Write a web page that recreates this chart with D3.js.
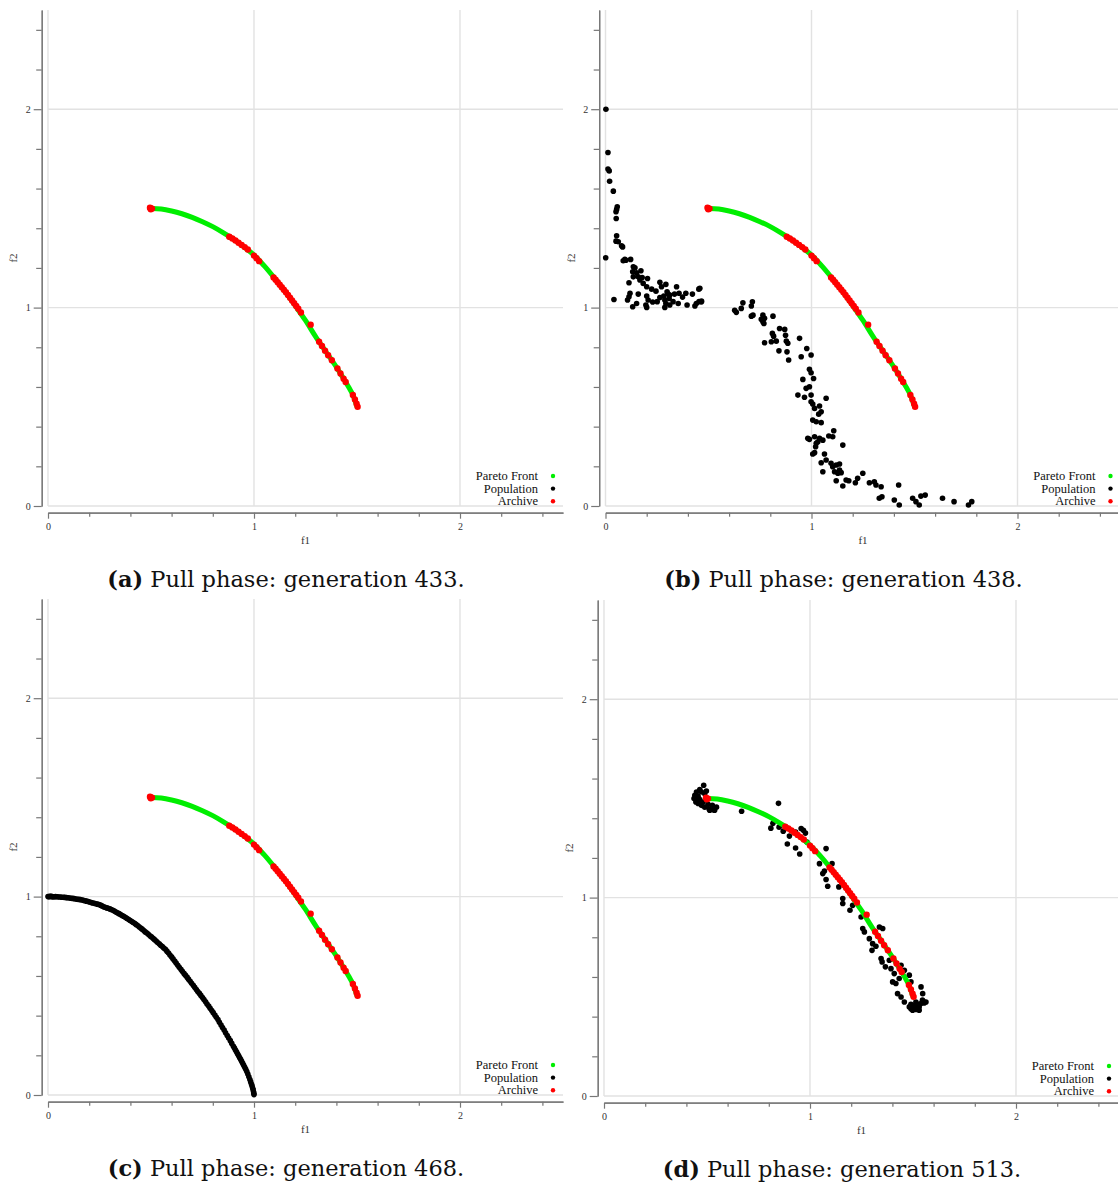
<!DOCTYPE html>
<html><head><meta charset="utf-8">
<script src="https://cdn.jsdelivr.net/npm/d3@7"></script>
<style>
html,body{margin:0;padding:0;background:#fff;}
svg{display:block;}
</style></head>
<body>
<svg id="fig" width="1118" height="1183"></svg>
<script>
// ---------------- DATA ----------------
const captionLetters = ["(a)", "(b)", "(c)", "(d)"];
const captionTexts = [" Pull phase: generation 433.", " Pull phase: generation 438.", " Pull phase: generation 468.", " Pull phase: generation 513."];
const legendLabels = ["Pareto Front", "Population", "Archive"];
const legendColors = ["#00ee00", "#000000", "#ff0000"];
const majorTicks = [0, 1, 2];
const minorTicks = [0.2, 0.4, 0.6, 0.8, 1.2, 1.4, 1.6, 1.8, 2.2, 2.4];
const axisDomain = [0, 2.5];

// Pareto front (f1, f2)
const paretoFront = [
  [0.50,1.500],[0.55,1.497],[0.60,1.487],[0.65,1.473],[0.70,1.455],[0.75,1.433],[0.80,1.408],
  [0.85,1.378],[0.90,1.345],[0.95,1.307],[1.00,1.265],[1.05,1.210],[1.10,1.148],[1.15,1.082],
  [1.20,1.010],[1.25,0.935],[1.30,0.852],[1.35,0.776],[1.40,0.700],[1.43,0.650],[1.46,0.598],
  [1.48,0.560],[1.50,0.500]
];

// Archive (same in all four panels)
const archive = [
  [0.495,1.503],[0.500,1.500],[0.505,1.499],[0.499,1.496],
  [0.880,1.357],[0.895,1.348],[0.910,1.338],[0.925,1.327],[0.940,1.316],[0.955,1.305],[0.970,1.293],
  [1.000,1.262],[1.012,1.249],[1.025,1.234],
  [1.095,1.152],[1.105,1.140],[1.115,1.128],[1.125,1.115],[1.135,1.103],[1.145,1.090],[1.155,1.077],
  [1.165,1.064],[1.175,1.050],[1.185,1.036],[1.195,1.022],[1.205,1.008],[1.215,0.994],[1.228,0.975],
  [1.275,0.914],
  [1.316,0.828],[1.330,0.807],[1.345,0.783],[1.360,0.760],[1.378,0.735],
  [1.405,0.693],[1.420,0.668],[1.435,0.642],[1.445,0.625],
  [1.480,0.560],[1.490,0.537],[1.498,0.515],[1.503,0.500]
];

// Population, generation 433
const populationA = [[0.495,1.503],[0.880,1.357]];

// Population, generation 438
const populationB = [
  [0.002,2.000],[0.012,1.782],[0.012,1.698],[0.018,1.689],[0.020,1.637],[0.038,1.587],
  [0.057,1.508],[0.054,1.495],[0.051,1.483],[0.052,1.449],[0.054,1.362],[0.051,1.335],[0.062,1.332],
  [0.078,1.312],[0.083,1.306],[0.001,1.251],[0.086,1.236],[0.094,1.243],[0.099,1.239],[0.122,1.243],
  [0.135,1.206],[0.143,1.201],[0.132,1.181],[0.151,1.176],[0.172,1.186],[0.135,1.155],[0.159,1.155],
  [0.178,1.152],[0.167,1.139],[0.204,1.147],[0.183,1.122],[0.114,1.125],[0.200,1.105],[0.224,1.093],
  [0.245,1.083],[0.264,1.128],[0.272,1.105],[0.293,1.117],[0.345,1.105],[0.299,1.080],[0.304,1.068],
  [0.283,1.058],[0.312,1.063],[0.335,1.068],[0.357,1.072],[0.374,1.053],[0.390,1.072],[0.422,1.068],
  [0.453,1.093],[0.041,1.041],[0.119,1.072],[0.114,1.055],[0.107,1.038],[0.159,1.068],[0.200,1.058],
  [0.207,1.038],[0.196,1.013],[0.229,1.028],[0.264,1.051],[0.251,1.030],[0.288,1.038],[0.293,1.021],
  [0.288,1.001],[0.309,1.046],[0.328,1.030],[0.353,1.021],[0.312,1.013],[0.396,1.013],[0.434,1.008],
  [0.441,1.021],[0.454,1.030],[0.466,1.033],[0.132,1.004],[0.151,1.021],[0.200,1.001],
  [0.458,1.097],[0.466,1.029],
  [0.627,0.987],[0.635,0.976],[0.667,1.024],[0.659,0.996],[0.713,1.029],[0.708,1.008],[0.716,0.962],
  [0.708,0.957],[0.764,0.962],[0.756,0.941],[0.772,0.946],[0.764,0.929],[0.769,0.920],[0.813,0.957],
  [0.810,0.870],[0.816,0.856],[0.805,0.828],[0.829,0.831],[0.772,0.823],[0.842,0.782],[0.845,0.895],
  [0.870,0.890],[0.874,0.861],[0.878,0.831],[0.885,0.820],[0.881,0.777],[0.889,0.736],[0.942,0.845],
  [0.950,0.752],[0.977,0.794],[0.998,0.761],[0.990,0.689],[0.998,0.672],[1.010,0.643],[0.958,0.638],
  [0.974,0.593],[0.990,0.601],[0.998,0.559],[0.934,0.559],[0.966,0.548],[1.071,0.543],[0.998,0.525],
  [1.006,0.514],[1.015,0.492],[1.039,0.504],[1.047,0.475],[1.035,0.463],[1.006,0.433],[1.023,0.425],
  [1.047,0.420],[0.982,0.341],[0.990,0.336],[1.015,0.349],[1.023,0.316],[1.031,0.324],[1.039,0.341],
  [1.055,0.332],[1.020,0.299],[1.084,0.353],[1.103,0.349],[1.108,0.379],[1.152,0.307],[1.015,0.269],
  [1.006,0.262],[1.063,0.262],[1.071,0.232],[1.047,0.218],[1.055,0.173],[1.095,0.215],[1.103,0.198],
  [1.120,0.207],[1.136,0.212],[1.112,0.173],[1.128,0.165],[1.144,0.168],[1.136,0.181],[1.120,0.127],
  [1.152,0.101],[1.168,0.131],[1.181,0.127],[1.213,0.117],[1.224,0.140],[1.249,0.165],[1.281,0.117],
  [1.305,0.122],[1.313,0.106],[1.338,0.097],[1.329,0.039],[1.342,0.047],[1.423,0.106],[1.402,0.030],
  [1.426,0.005],[1.491,0.039],[1.507,0.022],[1.523,0.005],[1.531,0.050],[1.552,0.055],[1.636,0.039],
  [1.692,0.022],[1.762,0.005],[1.778,0.022]
];

// Population, generation 468
const populationC = [
  [0.000,1.000],[0.005,1.000],[0.010,1.001],[0.015,1.001],[0.020,1.000],[0.025,0.999],[0.030,0.999],
  [0.037,1.000],[0.045,0.999],[0.052,0.998],[0.060,0.998],[0.067,0.997],[0.075,0.997],[0.082,0.996],
  [0.090,0.995],[0.097,0.994],[0.105,0.993],[0.112,0.992],[0.120,0.991],[0.127,0.990],[0.135,0.988],
  [0.142,0.987],[0.150,0.986],[0.157,0.985],[0.165,0.983],[0.172,0.981],[0.180,0.979],[0.187,0.977],
  [0.195,0.975],[0.202,0.973],[0.210,0.970],[0.217,0.968],[0.225,0.966],[0.232,0.964],[0.240,0.962],
  [0.247,0.960],[0.255,0.957],[0.262,0.953],[0.270,0.949],[0.277,0.946],[0.285,0.943],[0.292,0.941],
  [0.300,0.938],[0.307,0.935],[0.315,0.931],[0.322,0.927],[0.330,0.922],[0.337,0.918],[0.345,0.914],
  [0.352,0.910],[0.360,0.905],[0.367,0.901],[0.375,0.896],[0.382,0.891],[0.390,0.886],[0.397,0.881],
  [0.405,0.876],[0.412,0.871],[0.420,0.866],[0.427,0.860],[0.435,0.854],[0.442,0.848],[0.450,0.842],
  [0.457,0.836],[0.465,0.829],[0.472,0.822],[0.480,0.816],[0.487,0.810],[0.495,0.803],[0.502,0.797],
  [0.510,0.790],[0.517,0.783],[0.525,0.776],[0.532,0.769],[0.540,0.762],[0.547,0.755],[0.555,0.748],
  [0.562,0.741],[0.570,0.734],[0.577,0.725],[0.585,0.716],[0.592,0.706],[0.600,0.696],[0.607,0.686],
  [0.615,0.675],[0.622,0.665],[0.630,0.654],[0.637,0.644],[0.645,0.634],[0.652,0.624],[0.660,0.613],
  [0.667,0.604],[0.675,0.594],[0.682,0.584],[0.690,0.573],[0.697,0.563],[0.705,0.553],[0.712,0.543],
  [0.720,0.532],[0.727,0.522],[0.735,0.512],[0.742,0.502],[0.750,0.491],[0.757,0.481],[0.765,0.470],
  [0.772,0.459],[0.780,0.448],[0.787,0.437],[0.795,0.426],[0.802,0.415],[0.810,0.403],[0.817,0.392],
  [0.825,0.380],[0.832,0.367],[0.840,0.353],[0.847,0.340],[0.855,0.327],[0.862,0.314],[0.870,0.300],
  [0.877,0.287],[0.885,0.274],[0.892,0.260],[0.900,0.246],[0.905,0.237],[0.910,0.227],[0.915,0.218],
  [0.920,0.208],[0.925,0.199],[0.930,0.189],[0.935,0.180],[0.940,0.170],[0.945,0.160],[0.950,0.150],
  [0.955,0.140],[0.960,0.130],[0.965,0.118],[0.970,0.106],[0.975,0.092],[0.980,0.078],[0.984,0.066],
  [0.988,0.054],[0.991,0.044],[0.994,0.034],[0.996,0.025],[0.998,0.016],[0.999,0.009],[1.000,0.002]
];

// Population, generation 513
const populationD = [
  [0.484,1.566],[0.465,1.544],[0.449,1.532],[0.441,1.515],[0.437,1.499],[0.446,1.482],[0.457,1.474],
  [0.473,1.465],[0.489,1.456],[0.510,1.448],[0.529,1.443],[0.546,1.456],[0.526,1.465],[0.505,1.470],
  [0.481,1.482],[0.465,1.494],[0.457,1.510],[0.473,1.532],[0.489,1.524],[0.497,1.537],[0.452,1.494],
  [0.468,1.476],[0.537,1.440],[0.513,1.440],
  [0.668,1.435],[0.847,1.475],[0.820,1.375],[0.850,1.355],[0.810,1.350],[0.870,1.335],[0.900,1.310],
  [0.930,1.330],[0.930,1.250],[0.890,1.270],[0.950,1.220],
  [0.957,1.348],[0.968,1.339],[0.978,1.325],[0.985,1.280],[1.078,1.247],[1.046,1.171],[1.070,1.134],
  [1.062,1.121],[1.078,1.091],[1.086,1.057],[1.107,1.171],[1.140,1.054],[1.159,0.995],[1.159,0.970],
  [1.194,0.936],[1.207,0.961],[1.248,0.902],[1.256,0.844],[1.264,0.827],[1.288,0.793],[1.304,0.768],
  [1.301,0.734],[1.320,0.755],[1.337,0.852],[1.353,0.844],[1.345,0.693],[1.350,0.676],[1.366,0.651],
  [1.385,0.684],[1.393,0.642],[1.409,0.617],[1.401,0.575],[1.417,0.567],[1.433,0.592],[1.442,0.659],
  [1.458,0.634],[1.482,0.609],[1.490,0.575],[1.425,0.516],[1.442,0.499],[1.458,0.474],[1.539,0.550],
  [1.547,0.516],[1.555,0.474],
  [1.482,0.449],[1.498,0.441],[1.514,0.436],[1.530,0.449],[1.538,0.466],[1.522,0.462],[1.506,0.457],
  [1.490,0.462],[1.546,0.483],[1.554,0.469],[1.563,0.474],[1.514,0.474],[1.498,0.432],[1.530,0.432],
  [1.490,0.440],[1.506,0.440],[1.522,0.445]
];

const populations = [populationA, populationB, populationC, populationD];

// ---------------- LAYOUT ----------------
const panelOffsets = [[0,0],[557.5,0],[0,589],[556,590]];
const PL = 48, PR = 563, PT = 10, PB = 506;
const serif = "'Liberation Serif', 'Times New Roman', serif";

const svg = d3.select("#fig");
const x = d3.scaleLinear().domain(axisDomain).range([PL, PR]);
const y = d3.scaleLinear().domain(axisDomain).range([PB, PT]);

const line = d3.line().x(d => x(d[0])).y(d => y(d[1])).curve(d3.curveCatmullRom);

populations.forEach((pop, i) => {
  const g = svg.append("g").attr("transform", `translate(${panelOffsets[i][0]},${panelOffsets[i][1]})`);

  // grid
  const grid = g.append("g");
  grid.selectAll("line.v").data(majorTicks).join("line")
    .attr("x1", d => x(d)).attr("x2", d => x(d)).attr("y1", PT).attr("y2", PB)
    .attr("stroke", "#e2e2e2").attr("stroke-width", 1.4);
  grid.selectAll("line.h").data(majorTicks).join("line")
    .attr("x1", PL).attr("x2", PR).attr("y1", d => y(d)).attr("y2", d => y(d))
    .attr("stroke", "#e2e2e2").attr("stroke-width", 1.4);

  // y axis (offset left)
  const yMinor = g.append("g").attr("transform", `translate(${PL - 6.3},0)`)
    .call(d3.axisLeft(y).tickValues(minorTicks).tickSize(5.5).tickSizeOuter(0).tickFormat(""));
  const yMajor = g.append("g").attr("transform", `translate(${PL - 6.3},0)`)
    .call(d3.axisLeft(y).tickValues(majorTicks).tickSize(8).tickSizeOuter(0).tickFormat(d3.format("d")));
  // x axis (offset below)
  const xMinor = g.append("g").attr("transform", `translate(0,${PB + 6.7})`)
    .call(d3.axisBottom(x).tickValues(minorTicks).tickSize(4).tickSizeOuter(0).tickFormat(""));
  const xMajor = g.append("g").attr("transform", `translate(0,${PB + 6.7})`)
    .call(d3.axisBottom(x).tickValues(majorTicks).tickSize(6).tickSizeOuter(0).tickFormat(d3.format("d")));
  [yMinor, yMajor, xMinor, xMajor].forEach(a => {
    a.selectAll("path").attr("stroke", "#777").attr("stroke-width", 1.2);
    a.selectAll("line").attr("stroke", "#777").attr("stroke-width", 1.2);
    a.selectAll("text").attr("fill", "#333").style("font-family", serif).style("font-size", "10px");
  });
  yMajor.selectAll("text").attr("x", -11);
  xMajor.selectAll("text").attr("y", 10);

  g.append("text").attr("x", (PL + PR) / 2).attr("y", PB + 38)
    .attr("text-anchor", "middle").style("font-family", serif).style("font-size", "11px").attr("fill", "#333")
    .text("f1");
  g.append("text").attr("transform", `translate(17,${(PT + PB) / 2}) rotate(-90)`)
    .attr("text-anchor", "middle").style("font-family", serif).style("font-size", "11px").attr("fill", "#333")
    .text("f2");

  // population
  g.append("g").selectAll("circle").data(pop).join("circle")
    .attr("cx", d => x(d[0])).attr("cy", d => y(d[1])).attr("r", 2.8).attr("fill", "#000");
  // pareto front
  g.append("path").datum(paretoFront).attr("d", line)
    .attr("fill", "none").attr("stroke", "#00ee00").attr("stroke-width", 5).attr("stroke-linecap", "round");
  // archive
  g.append("g").selectAll("circle").data(archive).join("circle")
    .attr("cx", d => x(d[0])).attr("cy", d => y(d[1])).attr("r", 3.2).attr("fill", "#ff0000");

  // legend
  const lg = g.append("g");
  legendLabels.forEach((lab, k) => {
    lg.append("text").attr("x", 538).attr("y", 480 + k * 12.6).attr("text-anchor", "end")
      .style("font-family", serif).style("font-size", "12.5px").attr("fill", "#111").text(lab);
    lg.append("circle").attr("cx", 553).attr("cy", 476 + k * 12.6).attr("r", 2.2).attr("fill", legendColors[k]);
  });

  // caption
  const cap = g.append("text").attr("x", 286).attr("y", 587).attr("text-anchor", "middle")
    .style("font-family", "'DejaVu Serif', serif").style("font-size", "22.5px").attr("fill", "#111");
  cap.append("tspan").attr("font-weight", "bold").text(captionLetters[i]);
  cap.append("tspan").text(captionTexts[i]);
});
</script>
</body></html>
